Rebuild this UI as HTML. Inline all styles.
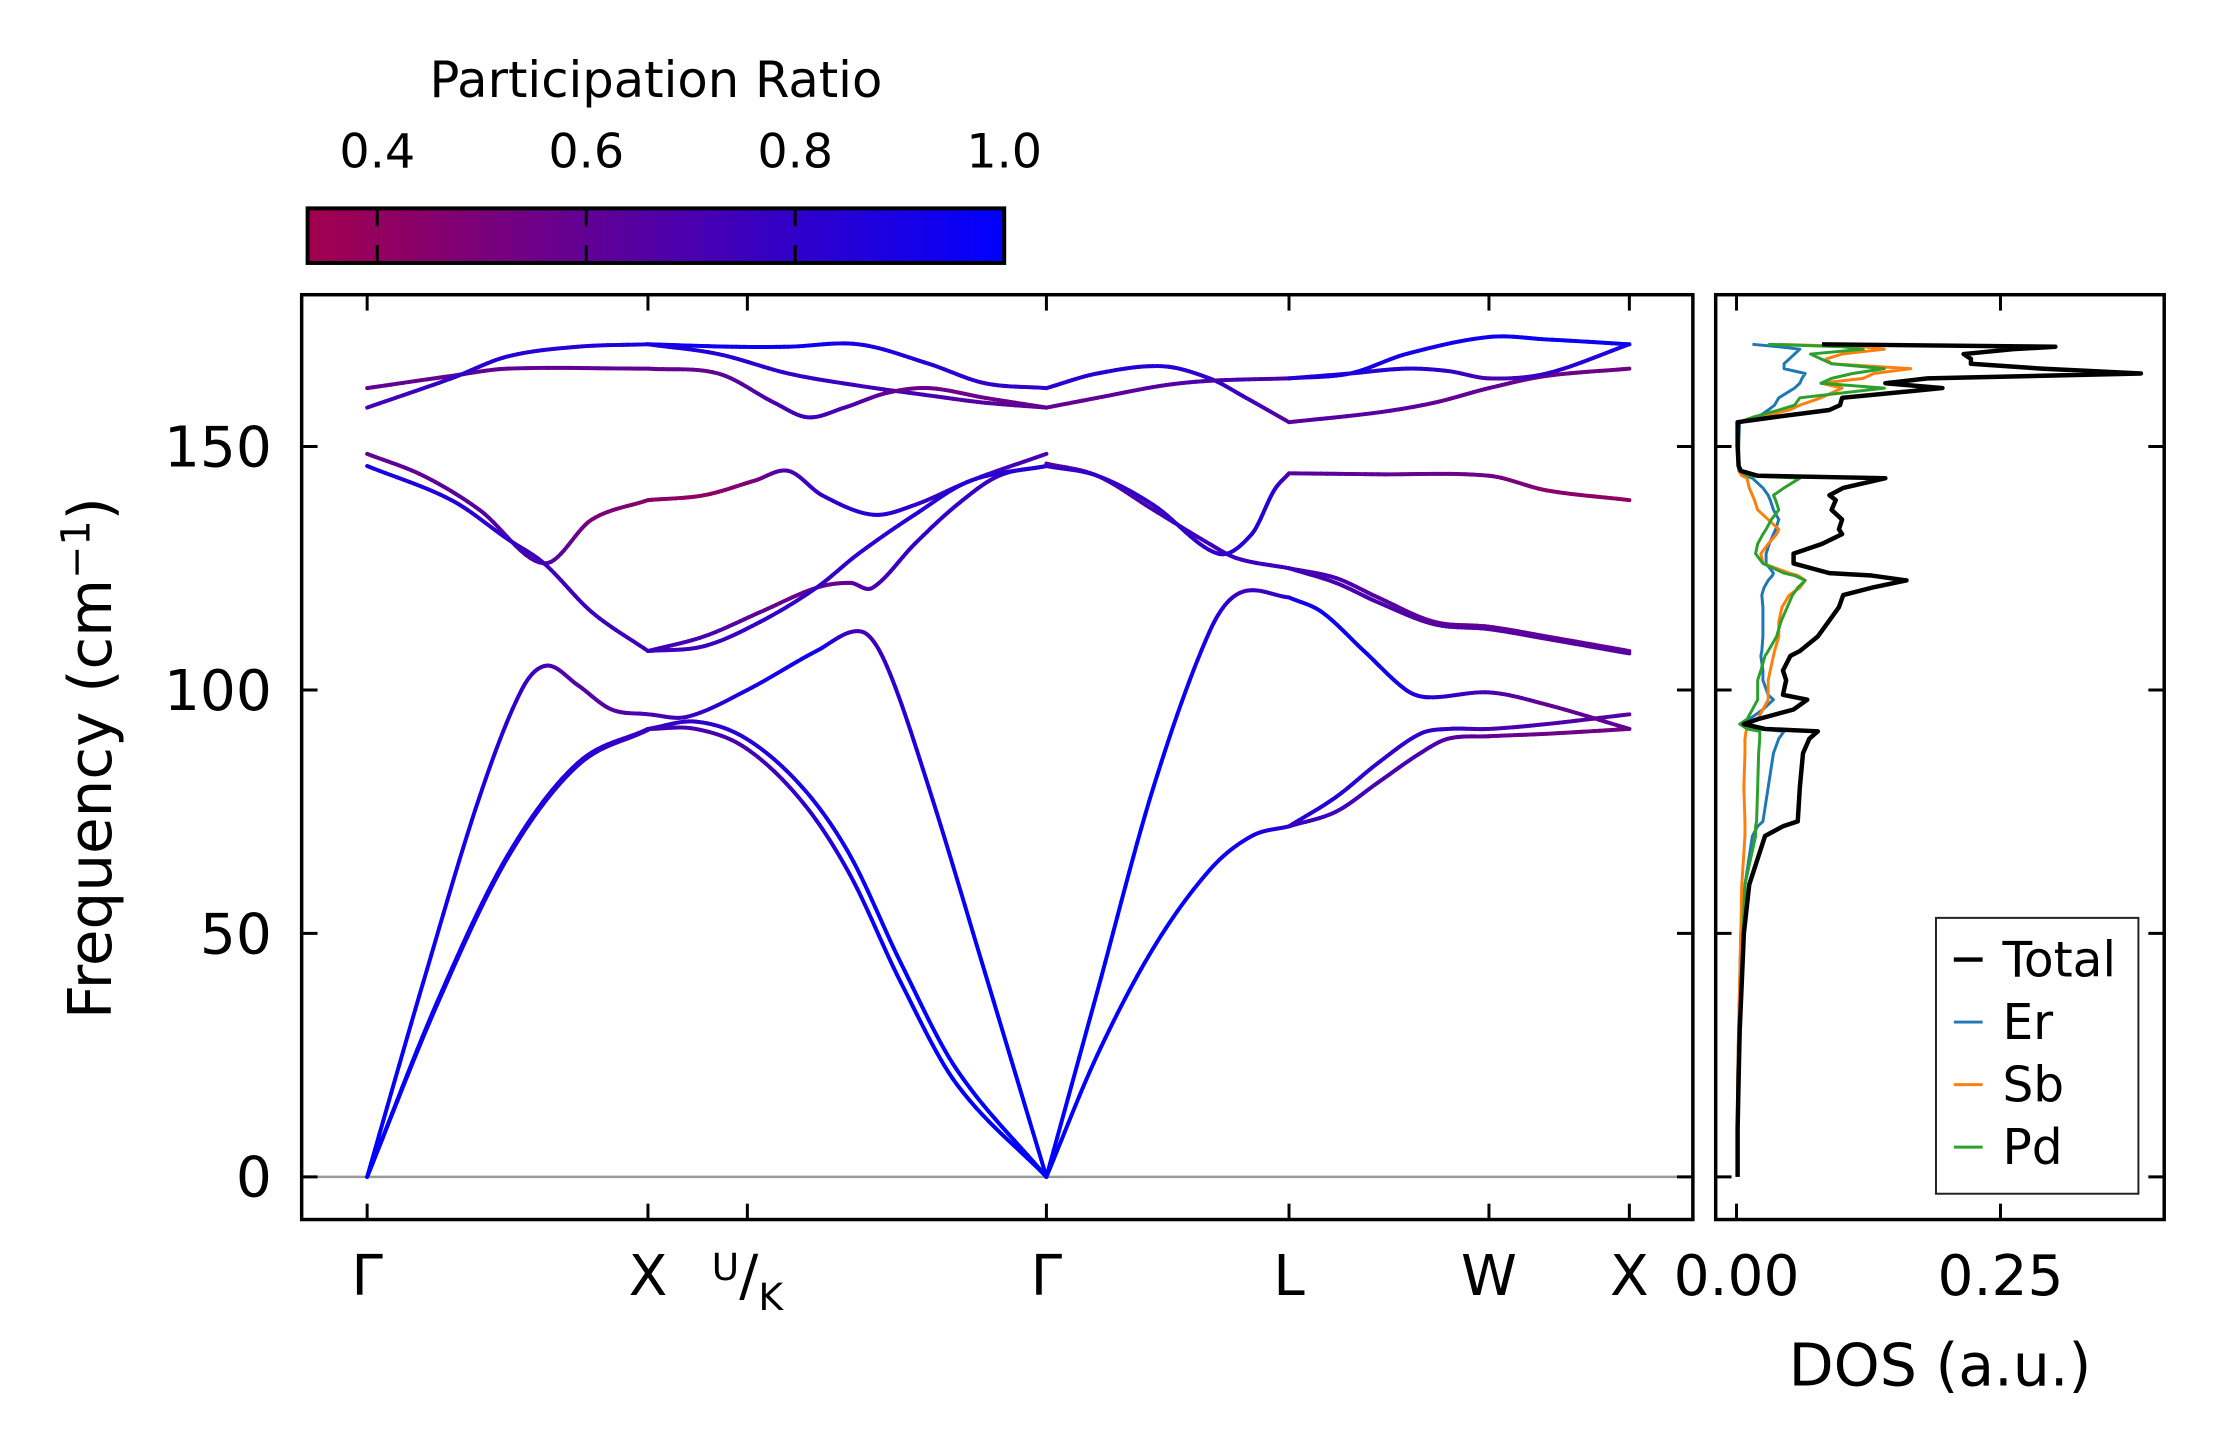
<!DOCTYPE html>
<html><head><meta charset="utf-8">
<style>
html,body{margin:0;padding:0;background:#fff;}
svg{display:block;font-family:"DejaVu Sans","Liberation Sans",sans-serif;}
</style></head>
<body>
<svg id="chart" width="2222" height="1455" viewBox="0 0 2222 1455" xmlns="http://www.w3.org/2000/svg">
<defs>
<linearGradient id="cmap" x1="0" x2="1" y1="0" y2="0">
<stop offset="0" stop-color="#a3004d"/><stop offset="1" stop-color="#0000ff"/>
</linearGradient>
</defs>
<g id="root" transform="scale(0.9923)">
<g id="colorbar">
<text x="661" y="98" font-size="50" text-anchor="middle">Participation Ratio</text>
<rect x="310" y="210" width="702" height="55" fill="url(#cmap)" stroke="#000" stroke-width="4"/>
</g>
<g id="bandsAxes"></g>
<g id="dosAxes"></g>
<text transform="translate(112,764) rotate(-90)" font-size="60" text-anchor="middle">Frequency (cm<tspan dy="-22" font-size="40">−1</tspan><tspan dy="22">)</tspan></text>
<text x="1955" y="1396" font-size="59" text-anchor="middle">DOS (a.u.)</text>
<g id="legend">
<rect x="1951" y="925" width="204" height="278" fill="#fff" stroke="#222" stroke-width="2"/>
<line x1="1969" x2="1998" y1="967" y2="967" stroke="#000" stroke-width="4.5"/>
<text x="2018" y="984" font-size="49">Total</text>
<line x1="1969" x2="1998" y1="1030" y2="1030" stroke="#1f77b4" stroke-width="3"/>
<text x="2018" y="1047" font-size="49">Er</text>
<line x1="1969" x2="1998" y1="1093" y2="1093" stroke="#ff7f0e" stroke-width="3"/>
<text x="2018" y="1110" font-size="49">Sb</text>
<line x1="1969" x2="1998" y1="1156" y2="1156" stroke="#2ca02c" stroke-width="3"/>
<text x="2018" y="1173" font-size="49">Pd</text>
</g>
</g>
</svg>
<script>
// ---- data ----
const cbTicks = [0.4, 0.6, 0.8, 1.0];
const yTicks = [0, 50, 100, 150];
const kLabels = ["Γ", "X", "U/K", "Γ", "L", "W", "X"];
const kPositions = [0, 1, 1.354, 2.419, 3.283, 3.995, 4.495];
const dosTicks = [0.00, 0.25];

// band branches: k, frequency, participation ratio
const bandK = [
 [0,0.25,0.5,0.75,1],
 [0,0.25,0.5,0.75,1],
 [0,0.2,0.4,0.55,0.64,0.75,0.87,1],
 [0,0.2,0.4,0.63,0.8,1],
 [0,0.3,0.5,0.63,0.8,1],
 [0,0.3,0.5,1],
 [0,0.3,0.5,0.75,1],
 [1,1.17,1.35,1.55,1.72,1.9,2.1,2.419],
 [1,1.17,1.35,1.55,1.72,1.9,2.1,2.419],
 [1,1.14,1.354,1.6,1.76,1.85,2.0,2.2,2.419],
 [1,1.2,1.38,1.5,1.62,1.8,1.95,2.15,2.419],
 [1,1.2,1.4,1.6,1.72,1.8,1.95,2.1,2.25,2.419],
 [1,1.2,1.4,1.6,1.75,1.95,2.15,2.419],
 [1,1.3,1.5,1.75,2.0,2.2,2.419],
 [1,1.25,1.5,1.75,2.0,2.2,2.419],
 [1,1.25,1.45,1.57,1.7,1.85,2.0,2.2,2.419],
 [2.419,2.6,2.8,3.0,3.15,3.283],
 [2.419,2.6,2.8,3.0,3.11,3.283],
 [2.419,2.6,2.8,3.0,3.1,3.283],
 [2.419,2.6,2.8,3.03,3.15,3.23,3.283],
 [2.419,2.6,2.83,3.0,3.13,3.283],
 [2.419,2.6,2.83,3.0,3.283],
 [3.283,3.45,3.6,3.75,3.85,3.995,4.2,4.495],
 [3.283,3.45,3.6,3.75,3.85,3.995,4.2,4.495],
 [3.283,3.4,3.55,3.7,3.78,3.995,4.2,4.495],
 [3.283,3.45,3.6,3.8,3.995,4.2,4.495],
 [3.283,3.45,3.6,3.8,3.995,4.2,4.495],
 [3.283,3.6,3.995,4.2,4.495],
 [3.283,3.6,3.8,3.995,4.2,4.495],
 [3.283,3.5,3.7,3.85,3.995,4.2,4.495],
 [3.283,3.5,3.7,3.995,4.2,4.495]
];
const bandF = [
 [0,36,66,85,92],
 [0,35.5,65.5,84.5,91.8],
 [0,40,78,100,105,101,96,95],
 [148.5,144,137,126,135,139],
 [146,139,131,126,116,108],
 [162,164.5,166,166],
 [158,164,168.5,170.5,171],
 [92,93.5,90,80,66,44,22,0],
 [92,92,88,77,62,40,19,0],
 [95,94.5,100,108,112,105,80,42,0],
 [139,140,143,145,140,136,138,143,148.5],
 [108,111,116,121,122,121,130,138,144,146],
 [108,109,114,121,128,136,143,146],
 [171,170.5,170.5,171,167,163,162],
 [171,169,165,162.5,160.5,159,158],
 [166,165,159,156,158,161,162,160,158],
 [0,25,47,63,70,72],
 [0,38,80,112,120,119],
 [146.5,144,137,130,127,125],
 [146,144,138,128,132,141,144.5],
 [162,165,166.5,164,160,155],
 [158,160,162.5,163.5,164],
 [72,78,85,91,92,92,93,95],
 [72,75,81,87,90,90.5,91,92],
 [119,116,108,100,98.5,99.5,97,92],
 [125,123,119,114,113,111,108],
 [125,122,118,113.5,112.5,110.5,107.5],
 [144.5,144.3,144,141,139],
 [155,157,159,162,164.5,166],
 [164,165,166,165.5,164,165,171],
 [164,165,169,172.5,172,171]
];
const bandP = [
 [1,0.95,0.9,0.85,0.8],
 [1,0.95,0.9,0.85,0.75],
 [1,0.95,0.9,0.8,0.7,0.65,0.65,0.7],
 [0.6,0.6,0.65,0.7,0.5,0.45],
 [0.9,0.85,0.8,0.75,0.75,0.75],
 [0.6,0.6,0.6,0.6],
 [0.7,0.8,0.85,0.85,0.9],
 [0.8,0.8,0.85,0.9,0.95,1,1,1],
 [0.75,0.7,0.7,0.8,0.9,1,1,1],
 [0.7,0.75,0.9,0.95,0.7,0.8,0.9,1,1],
 [0.45,0.4,0.5,0.7,0.8,0.85,0.8,0.75,0.7],
 [0.75,0.7,0.6,0.55,0.6,0.7,0.8,0.8,0.75,0.75],
 [0.75,0.75,0.8,0.8,0.8,0.85,0.85,0.85],
 [0.95,0.95,0.95,0.9,0.85,0.8,0.8],
 [0.9,0.85,0.8,0.75,0.7,0.65,0.6],
 [0.6,0.6,0.7,0.75,0.7,0.6,0.55,0.55,0.6],
 [1,1,1,0.95,0.9,0.85],
 [1,1,1,0.9,0.75,0.8],
 [0.6,0.65,0.7,0.75,0.75,0.75],
 [0.8,0.8,0.8,0.8,0.85,0.85,0.7],
 [0.8,0.85,0.85,0.8,0.75,0.65],
 [0.6,0.6,0.65,0.7,0.7],
 [0.85,0.85,0.8,0.8,0.8,0.7,0.7,0.65],
 [0.75,0.75,0.7,0.7,0.65,0.6,0.55,0.55],
 [0.9,0.95,0.95,0.9,0.85,0.7,0.6,0.6],
 [0.7,0.7,0.65,0.6,0.6,0.6,0.6],
 [0.75,0.7,0.7,0.65,0.65,0.65,0.65],
 [0.65,0.6,0.55,0.45,0.4],
 [0.65,0.65,0.6,0.6,0.55,0.55],
 [0.85,0.85,0.85,0.8,0.7,0.8,0.9],
 [0.85,0.9,0.9,0.95,0.95,0.95]
];

// DOS data
const dosFreq = [0,10,20,30,40,50,60,70,72,73,80,87,90,91.5,92,93,94,96,98,99,102,104,107,108,111,114,117,119.5,121,122.5,123.5,124,126,128,130,132,133,135,137,139,140,141.5,143.5,144,145,146,150,155,156,157.5,158.5,160,162,163,164,165,166,167,168,169,170,170.5,171];
const dosTotal = [0.001,0.001,0.002,0.003,0.005,0.007,0.012,0.027,0.044,0.058,0.06,0.063,0.069,0.077,0.027,0.007,0.02,0.054,0.067,0.044,0.047,0.044,0.051,0.06,0.077,0.087,0.097,0.101,0.128,0.161,0.128,0.088,0.054,0.054,0.081,0.1,0.097,0.1,0.09,0.094,0.088,0.101,0.141,0.02,0.004,0.002,0.001,0.001,0.034,0.088,0.098,0.1,0.195,0.141,0.181,0.383,0.289,0.222,0.222,0.215,0.262,0.302,0.081];
const dosEr = [0.001,0.001,0.001,0.002,0.003,0.004,0.008,0.015,0.02,0.025,0.03,0.035,0.04,0.045,0.02,0.005,0.012,0.025,0.035,0.03,0.025,0.025,0.023,0.024,0.025,0.025,0.025,0.024,0.026,0.03,0.034,0.035,0.028,0.028,0.031,0.035,0.037,0.04,0.035,0.032,0.03,0.025,0.015,0.008,0.003,0.002,0.002,0.003,0.02,0.03,0.036,0.04,0.055,0.06,0.062,0.065,0.045,0.045,0.05,0.055,0.06,0.04,0.015];
const dosSb = [0.001,0.001,0.001,0.002,0.003,0.004,0.005,0.008,0.008,0.008,0.007,0.008,0.008,0.009,0.01,0.005,0.02,0.025,0.03,0.03,0.03,0.032,0.035,0.036,0.04,0.04,0.043,0.05,0.06,0.065,0.058,0.05,0.025,0.023,0.03,0.038,0.04,0.03,0.02,0.017,0.015,0.012,0.01,0.005,0.002,0.002,0.002,0.002,0.02,0.05,0.06,0.08,0.1,0.08,0.12,0.13,0.165,0.09,0.085,0.1,0.14,0.12,0.04];
const dosPd = [0.001,0.001,0.002,0.003,0.005,0.006,0.008,0.018,0.018,0.019,0.02,0.021,0.022,0.022,0.01,0.003,0.01,0.015,0.02,0.02,0.02,0.023,0.027,0.03,0.038,0.042,0.048,0.053,0.058,0.065,0.055,0.045,0.025,0.018,0.02,0.025,0.028,0.033,0.04,0.037,0.035,0.045,0.06,0.01,0.003,0.002,0.002,0.002,0.015,0.04,0.055,0.06,0.14,0.08,0.09,0.11,0.14,0.09,0.08,0.07,0.12,0.1,0.03];

// ---- scales ----
const NS = "http://www.w3.org/2000/svg";
const bx0 = 304, bx1 = 1706, dx0 = 1729, dx1 = 2181, yTop = 297, yBot = 1229;
const xK = k => 370 + k * (1642 - 370) / 4.495;
const yF = f => 1186 - f * (1186 - 450) / 150;
const xD = d => 1750 + d * (2016 - 1750) / 0.25;
const xCb = p => 310 + (p - 1/3) * (1012 - 310) / (1 - 1/3);
function pColor(p) {
  let t = Math.max(0, Math.min(1, (p - 1/3) / (2/3)));
  const r = Math.round(163 * (1 - t)), b = Math.round(77 * (1 - t) + 255 * t);
  return `rgb(${r},0,${b})`;
}
function mk(tag, attrs, parent) {
  const el = document.createElementNS(NS, tag);
  for (const a in attrs) el.setAttribute(a, attrs[a]);
  parent.appendChild(el);
  return el;
}
const root = document.getElementById('root');
const cb = document.getElementById('colorbar');
const bands = document.getElementById('bandsAxes');
const dosG = document.getElementById('dosAxes');

cbTicks.forEach(v => {
  const x = xCb(v);
  if (v < 1) {
    const t1 = mk('line', {x1: x, x2: x, y1: 212, y2: 228, stroke: '#000', 'stroke-width': 3}, cb);
    
    
    const t2 = mk('line', {x1: x, x2: x, y1: 247, y2: 263, stroke: '#000', 'stroke-width': 3}, cb);
    
    
  }
  const tx = mk('text', {x: x, y: 169, 'font-size': 48, 'text-anchor': 'middle'}, cb);
  tx.textContent = v.toFixed(1);
  
  
});

const zl = mk('line', {x1: bx0, x2: bx1, y1: yF(0), y2: yF(0), stroke: '#999', 'stroke-width': 2.5}, bands);



function sample(xs, ys, ps, n) {
  const out = [];
  const m = xs.length;
  for (let i = 0; i < m - 1; i++) {
    const x0 = xs[Math.max(0, i - 1)], x1 = xs[i], x2 = xs[i + 1], x3 = xs[Math.min(m - 1, i + 2)];
    const y0 = ys[Math.max(0, i - 1)], y1 = ys[i], y2 = ys[i + 1], y3 = ys[Math.min(m - 1, i + 2)];
    const h = x2 - x1;
    const m1 = (i === 0) ? (y2 - y1) / h : (y2 - y0) / (x2 - x0);
    const m2 = (i === m - 2) ? (y2 - y1) / h : (y3 - y1) / (x3 - x1);
    for (let s = 0; s < n; s++) {
      const t = s / n;
      const h00 = 2*t*t*t - 3*t*t + 1, h10 = t*t*t - 2*t*t + t, h01 = -2*t*t*t + 3*t*t, h11 = t*t*t - t*t;
      out.push([x1 + h * t, h00*y1 + h10*h*m1 + h01*y2 + h11*h*m2, ps[i] + (ps[i+1] - ps[i]) * t]);
    }
  }
  out.push([xs[m-1], ys[m-1], ps[m-1]]);
  return out;
}

bandK.forEach((ks, bi) => {
  const g = mk('g', {}, bands);
  
  
  const pts = sample(ks, bandF[bi], bandP[bi], 14);
  for (let i = 0; i < pts.length - 1; i++) {
    const a = pts[i], b = pts[i + 1];
    mk('line', {x1: xK(a[0]), y1: yF(a[1]), x2: xK(b[0]), y2: yF(b[1]),
      stroke: pColor((a[2] + b[2]) / 2), 'stroke-width': 4, 'stroke-linecap': 'round'}, g);
  }
});

const bf = mk('rect', {x: bx0, y: yTop, width: bx1 - bx0, height: yBot - yTop, fill: 'none', stroke: '#000', 'stroke-width': 3.5}, bands);



kPositions.forEach((k, i) => {
  const x = xK(k);
  mk('line', {x1: x, x2: x, y1: yTop, y2: yTop + 16, stroke: '#000', 'stroke-width': 3}, bands);
  mk('line', {x1: x, x2: x, y1: yBot, y2: yBot - 16, stroke: '#000', 'stroke-width': 3}, bands);
  const tx = mk('text', {x: x, y: 1305, 'font-size': 57, 'text-anchor': 'middle'}, bands);
  if (kLabels[i] === 'U/K') {
    tx.innerHTML = '<tspan font-size="38" dy="-15">U</tspan><tspan dy="15">/</tspan><tspan font-size="38" dy="15">K</tspan>';
  } else tx.textContent = kLabels[i];
  
  
});
yTicks.forEach(v => {
  const y = yF(v);
  mk('line', {x1: bx0, x2: bx0 + 16, y1: y, y2: y, stroke: '#000', 'stroke-width': 3}, bands);
  mk('line', {x1: bx1, x2: bx1 - 16, y1: y, y2: y, stroke: '#000', 'stroke-width': 3}, bands);
  mk('line', {x1: dx0, x2: dx0 + 16, y1: y, y2: y, stroke: '#000', 'stroke-width': 3}, dosG);
  mk('line', {x1: dx1, x2: dx1 - 16, y1: y, y2: y, stroke: '#000', 'stroke-width': 3}, dosG);
  const tx = mk('text', {x: 274, y: y + 20, 'font-size': 57, 'text-anchor': 'end'}, bands);
  tx.textContent = v;
  
  
});

function dosLine(vals, color, w, name) {
  const d = dosFreq.map((f, i) => (i ? 'L' : 'M') + xD(vals[i]).toFixed(1) + ',' + yF(f).toFixed(1)).join('');
  const p = mk('path', {d: d, fill: 'none', stroke: color, 'stroke-width': w, 'stroke-linejoin': 'round'}, dosG);
  
  
}
dosLine(dosEr, '#1f77b4', 3, 'dos-er-line');
dosLine(dosSb, '#ff7f0e', 3, 'dos-sb-line');
dosLine(dosPd, '#2ca02c', 3, 'dos-pd-line');
dosLine(dosTotal, '#000', 4.5, 'dos-total-line');
const df = mk('rect', {x: dx0, y: yTop, width: dx1 - dx0, height: yBot - yTop, fill: 'none', stroke: '#000', 'stroke-width': 3.5}, dosG);


dosTicks.forEach(v => {
  const x = xD(v);
  mk('line', {x1: x, x2: x, y1: yTop, y2: yTop + 16, stroke: '#000', 'stroke-width': 3}, dosG);
  mk('line', {x1: x, x2: x, y1: yBot, y2: yBot - 16, stroke: '#000', 'stroke-width': 3}, dosG);
  const tx = mk('text', {x: x, y: 1305, 'font-size': 57, 'text-anchor': 'middle'}, dosG);
  tx.textContent = v.toFixed(2);
  
  
});
root.appendChild(document.getElementById('legend'));
</script>
</body></html>
